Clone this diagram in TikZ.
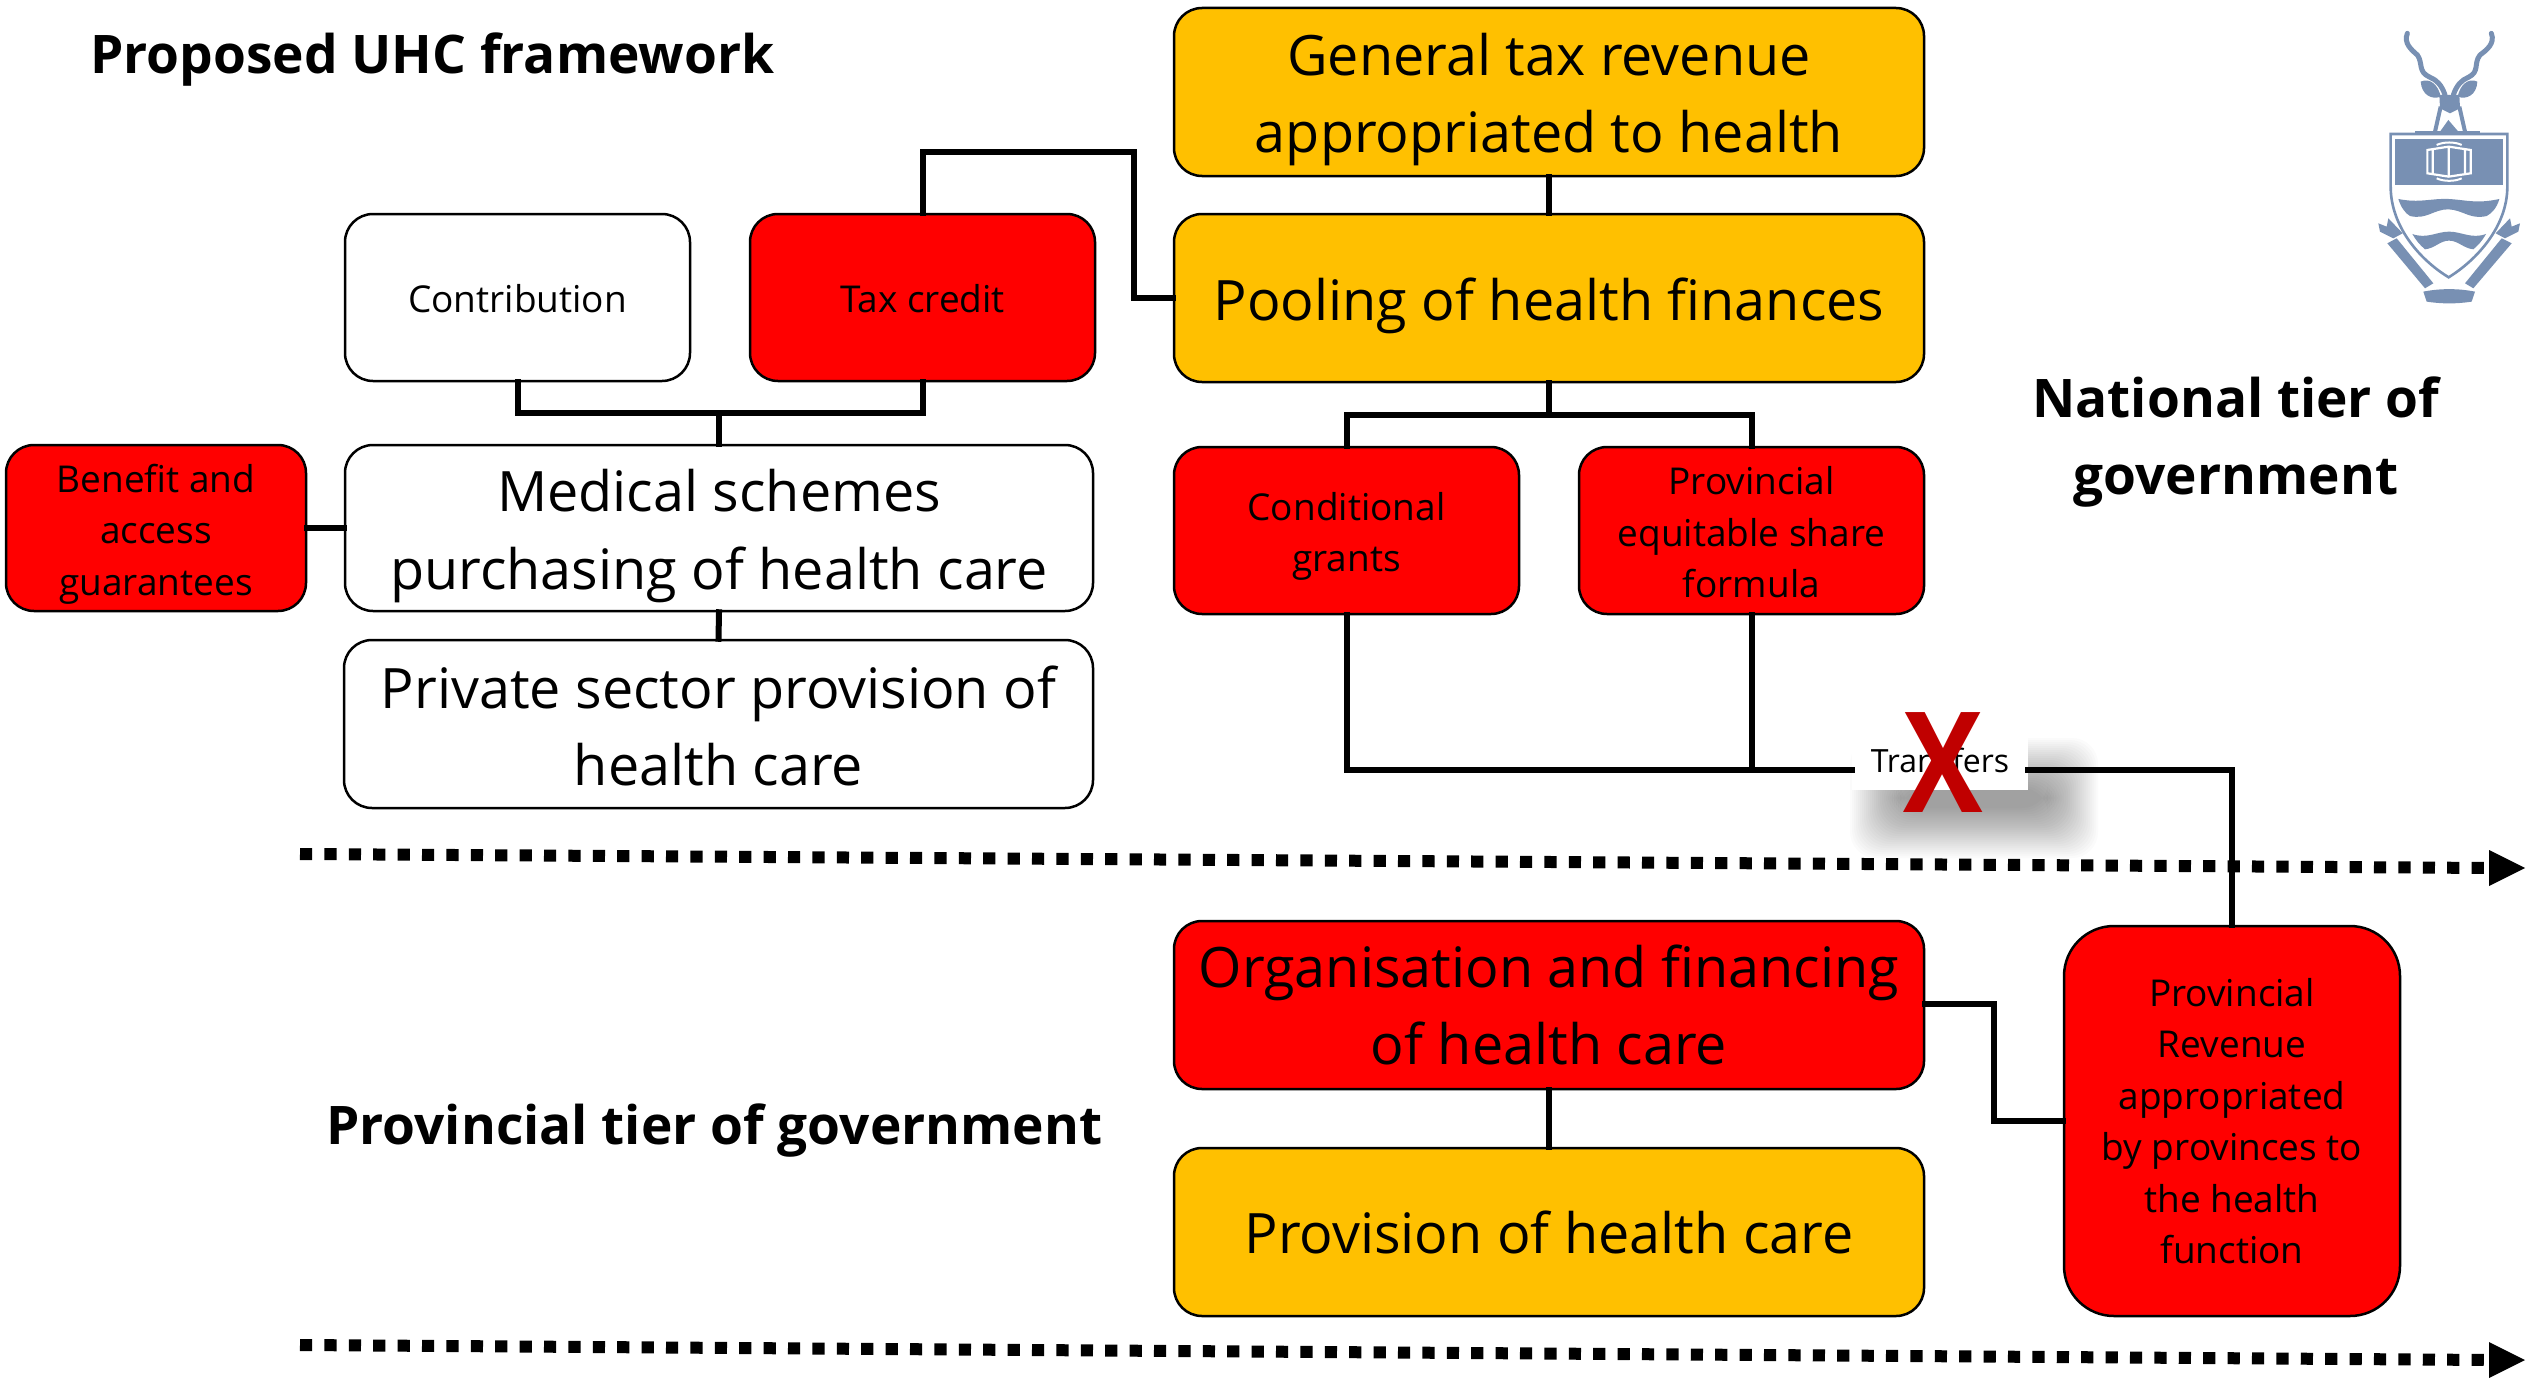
\documentclass[tikz,border=0pt]{standalone}
\usepackage{fontspec}
\setmainfont{Open Sans}
\usetikzlibrary{arrows.meta,calc}
\definecolor{amber}{HTML}{FFC000}
\definecolor{crest}{HTML}{7890B3}
\definecolor{xred}{HTML}{C00000}
\newcommand{\bigtxt}{\fontsize{55.7}{77}\selectfont}
\newcommand{\smalltxt}{\fontsize{37}{51.5}\selectfont}
\newcommand{\headtxt}{\fontsize{53.2}{77}\selectfont\bfseries}
% lower a line's glyphs without changing the node's layout
\newcommand{\dn}[2]{\raisebox{-#1pt}[\height][\depth]{#2}}
\tikzset{
  box/.style={draw=black,line width=2.5pt,rounded corners=28pt,align=center,inner sep=0pt,text=black,anchor=center},
  plainbox/.style={box,fill=white},
  redbox/.style={box,fill=red},
  goldbox/.style={box,fill=amber},
  bigbox/.style={minimum width=750pt,minimum height=168pt,font=\bigtxt},
  smallbox/.style={minimum width=345pt,minimum height=167pt,font=\smalltxt},
  wire/.style={draw=black,line width=6pt,line cap=rect},
  tier/.style={draw=black,line width=12pt,dash pattern=on 12.2pt off 12.2pt},
  tiptri/.style={fill=black,draw=none},
  head/.style={align=center,inner sep=0pt,anchor=center,font=\headtxt},
  crestfill/.style={fill=crest,draw=none},
  crestline/.style={draw=crest,fill=none,line width=2pt},
  antler/.style={draw=crest,line width=5pt,line cap=round,line join=round}
}
\begin{document}
\begin{tikzpicture}[x=1pt,y=-1pt]
\useasboundingbox (0,0) rectangle (2529,1381);
\fill[white] (0,0) rectangle (2529,1381);

% tier lines
\coordinate (t1a) at (300,854);
\coordinate (t1b) at (2492,868);
\coordinate (t2a) at (300,1345);
\coordinate (t2b) at (2492,1360);
\draw[tier] (t1a) -- (t1b);
\draw[tier] (t2a) -- (t2b);
\fill[tiptri] (2489,850) -- (2525,868) -- (2489,886) -- cycle;
\fill[tiptri] (2489,1342) -- (2525,1360) -- (2489,1378) -- cycle;

% nodes
\node[goldbox,bigbox] (tax) at (1549,92) {\dn{8}{General tax revenue}\\\dn{8}{appropriated to health}};
\node[goldbox,bigbox] (pool) at (1549,298) {\dn{8}{Pooling of health finances}};
\node[plainbox,smallbox] (contrib) at (517.5,297.5) {\dn{1}{Contribution}};
\node[redbox,smallbox] (credit) at (922.5,297.5) {\dn{1}{Tax credit}};
\node[plainbox,bigbox,minimum width=748pt,minimum height=166pt] (schemes) at (719,528) {\dn{8}{Medical schemes}\\\dn{9}{purchasing of health care}};
\node[redbox,smallbox,minimum width=300pt,minimum height=166pt] (benefit) at (156,528) {\dn{6}{Benefit and}\\\dn{6}{access}\\\dn{6}{guarantees}};
\node[plainbox,bigbox,minimum width=749pt] (private) at (718.5,724) {\dn{2}{Private sector provision of}\\\dn{2}{health care}};
\node[redbox,smallbox] (cond) at (1346.5,530.5) {\dn{6}{Conditional}\\\dn{6}{grants}};
\node[redbox,smallbox] (equit) at (1751.5,530.5) {\dn{2}{Provincial}\\\dn{2}{equitable share}\\\dn{2}{formula}};
\node[redbox,bigbox] (org) at (1549,1005) {Organisation and financing\\of health care};
\node[goldbox,bigbox] (prov) at (1549,1232) {Provision of health care};
\node[redbox,smallbox,minimum width=336pt,minimum height=390pt,rounded corners=50pt] (rev) at (2232,1121) {Provincial\\Revenue\\appropriated\\by provinces to\\the health\\function};

% transfers shadow, box
\foreach \i in {0,...,25}{
  \fill[black,opacity=0.017,rounded corners=26pt] ({1850+2*\i},{738+2*\i}) rectangle ({2098-2*\i},{858-2*\i});
}
\node[fill=white,minimum width=176pt,minimum height=60pt,inner sep=0pt,font=\fontsize{32}{40}\selectfont] (transfers) at (1940,760) {Transfers};

% connectors
\coordinate (eCredit) at (1134,152);
\coordinate (eCreditB) at (1134,298);
\coordinate (jLeft) at (719,413);
\coordinate (jPool) at (1549,415);
\coordinate (jTrans) at (1751.5,770);
\coordinate (eOrg) at (1994,1004);
\draw[wire] (tax.south) -- (pool.north);
\draw[wire] (credit.north) |- (eCredit) -- (eCreditB) -- (pool.west);
\draw[wire] (contrib.south) |- (jLeft) -| (credit.south);
\draw[wire] (jLeft) -- (schemes.north);
\draw[wire] (benefit.east) -- (schemes.west);
\draw[wire] (schemes.south) -- (private.north);
\draw[wire] (pool.south) -- (jPool);
\draw[wire] (cond.north) |- (jPool) -| (equit.north);
\draw[wire] (cond.south) |- (jTrans) -- (transfers.west |- jTrans);
\draw[wire] (equit.south) -- (jTrans);
\draw[wire] (transfers.east |- jTrans) -| (rev.north);
\draw[wire] (org.east |- eOrg) -- (eOrg) |- (rev.west);
\draw[wire] (org.south) -- (prov.north);

% the cross
\node[inner sep=0pt,text=xred,anchor=center,xscale=0.85] (cross) at (1943,763) {\fontsize{140}{140}\selectfont\bfseries X};

% headings
\node[head,anchor=west] (h1) at (90,60) {Proposed UHC framework};
\node[head] (h2) at (2236,442) {National tier of\\government};
\node[head,anchor=west] (h3) at (326,1131) {Provincial tier of government};

% crest
\begin{scope}[shift={(2330,0)},x=0.3333pt,y=-0.3333pt]
  \draw[antler] (232,100) .. controls (220,130) and (245,150) .. (262,165) .. controls (280,190) and (262,215) .. (300,232) .. controls (320,240) and (335,255) .. (345,285);
  \draw[antler] (484,100) .. controls (496,130) and (470,150) .. (450,165) .. controls (430,190) and (450,215) .. (415,232) .. controls (395,240) and (380,255) .. (370,285);
  \fill[crestfill] (272,245) .. controls (300,232) and (325,255) .. (332,290) .. controls (305,300) and (275,285) .. (272,245) -- cycle;
  \fill[crestfill] (442,245) .. controls (415,232) and (390,255) .. (383,290) .. controls (410,300) and (440,285) .. (442,245) -- cycle;
  \fill[crestfill] (328,285) -- (388,285) -- (390,325) -- (360,340) -- (330,325) -- cycle;
  \draw[crestline,line width=4pt] (332,320) -- (315,395) (388,320) -- (405,395);
  \fill[crestfill] (330,395) -- (355,360) -- (385,395) -- cycle;
  \draw[crestline,line width=2.6pt] (182,402) -- (532,402) -- (532,560) .. controls (532,680) and (440,780) .. (356,832) .. controls (270,780) and (182,680) .. (182,560) -- cycle;
  \fill[crestfill] (255,392) -- (450,392) -- (450,405) -- (255,405) -- cycle;
  \fill[crestfill] (196,416) -- (518,416) -- (518,556) -- (196,556) -- cycle;
  \draw[draw=white,line width=2.2pt,fill=none] (292,450) -- (356,440) -- (422,450) -- (422,520) -- (356,530) -- (292,520) -- cycle (308,445) -- (308,525) (405,445) -- (405,525) (356,440) -- (356,530);
  \draw[draw=white,line width=2pt] (320,435) .. controls (340,425) and (375,425) .. (395,435);
  \draw[draw=white,line width=2pt] (320,535) .. controls (340,545) and (375,545) .. (395,535);
  \fill[crestfill] (205,597) .. controls (270,610) and (300,595) .. (355,597) .. controls (410,600) and (440,612) .. (508,597) .. controls (500,625) and (485,640) .. (470,648) .. controls (420,660) and (400,630) .. (355,628) .. controls (310,628) and (290,660) .. (240,648) .. controls (225,640) and (212,620) .. (205,597) -- cycle;
  \fill[crestfill] (247,702) .. controls (290,718) and (320,695) .. (357,695) .. controls (395,695) and (425,718) .. (468,702) .. controls (455,725) and (445,735) .. (430,748) .. controls (400,745) and (385,722) .. (357,722) .. controls (330,722) and (315,745) .. (285,748) .. controls (270,735) and (258,722) .. (247,702) -- cycle;
  \fill[crestfill] (172,730) -- (200,715) -- (310,850) -- (285,865) -- cycle;
  \fill[crestfill] (545,730) -- (515,715) -- (405,850) -- (430,865) -- cycle;
  \fill[crestfill] (280,875) .. controls (330,865) and (385,865) .. (435,875) -- (425,905) .. controls (380,912) and (335,912) .. (290,905) -- cycle;
  \fill[crestfill] (145,670) -- (170,680) -- (175,655) -- (218,700) -- (190,715) -- (150,695) -- cycle;
  \fill[crestfill] (570,670) -- (545,680) -- (540,655) -- (497,700) -- (525,715) -- (565,695) -- cycle;
\end{scope}
\end{tikzpicture}
\end{document}
